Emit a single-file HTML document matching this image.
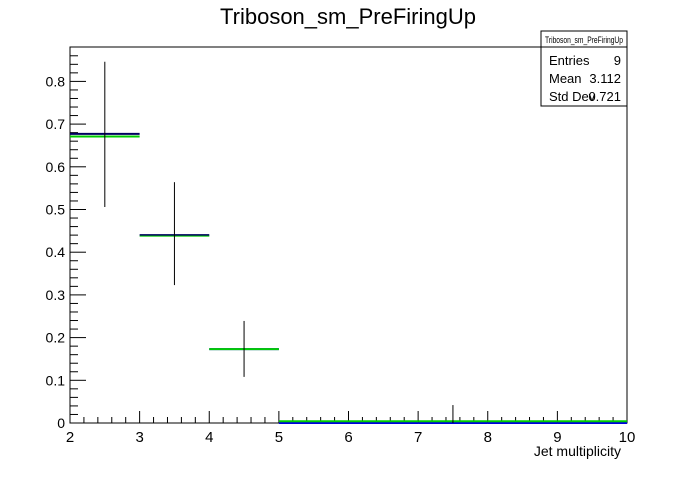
<!DOCTYPE html>
<html><head><meta charset="utf-8"><style>
body{margin:0;background:#fff;}
svg text{font-family:"Liberation Sans",sans-serif;}
</style></head><body>
<svg width="696" height="472" xmlns="http://www.w3.org/2000/svg">
<rect width="696" height="472" fill="#fff"/>
<text x="348" y="24" font-size="22" text-anchor="middle">Triboson_sm_PreFiringUp</text>
<rect x="70" y="47" width="557" height="376" fill="none" stroke="#000"/>
<g id="axes"></g>
<g id="marks"></g>
<text x="621" y="456" font-size="14" text-anchor="end">Jet multiplicity</text>
<g>
<rect x="541" y="31" width="86" height="75" fill="#fff" stroke="#000"/>
<line x1="541" y1="47" x2="627" y2="47" stroke="#000"/>
<text x="545" y="43" font-size="9" textLength="78" lengthAdjust="spacingAndGlyphs">Triboson_sm_PreFiringUp</text>
<text x="549" y="65" font-size="13">Entries</text><text x="621" y="65" font-size="13" text-anchor="end">9</text>
<text x="549" y="83" font-size="13">Mean</text><text x="621" y="83" font-size="13" text-anchor="end">3.112</text>
<text x="549" y="101" font-size="13">Std Dev</text><text x="621" y="101" font-size="13" text-anchor="end">0.721</text>
</g>
</svg>
<script>
const binEdges=[2,3,4,5,6,7,8,9,10];
const blueVals=[0.677,0.44,0.173,0,0,0,0,0];
const greenVals=[0.671,0.44,0.173,0.004,0.004,0.004,0.004,0.004];
const errLow=[0.506,0.323,0.108,0,0,0,0,0];
const errHigh=[0.846,0.564,0.239,0,0,0.042,0,0];
const xTicks=[2,3,4,5,6,7,8,9,10];
const yTicks=[0,0.1,0.2,0.3,0.4,0.5,0.6,0.7,0.8];
const NS="http://www.w3.org/2000/svg";
const X=v=>70+(v-2)*(557/8);
const Y=v=>423-v*427;
const ax=document.getElementById('axes'),mk=document.getElementById('marks');
function ln(p,x1,y1,x2,y2,c,w){const l=document.createElementNS(NS,'line');l.setAttribute('x1',x1);l.setAttribute('y1',y1);l.setAttribute('x2',x2);l.setAttribute('y2',y2);l.setAttribute('stroke',c);l.setAttribute('stroke-width',w);p.appendChild(l);return l;}
function tx(p,x,y,s,a){const t=document.createElementNS(NS,'text');t.setAttribute('x',x);t.setAttribute('y',y);t.setAttribute('font-size','14');t.setAttribute('text-anchor',a);t.textContent=s;p.appendChild(t);return t;}
for(let v=2;v<=10.001;v+=0.2){const major=Math.abs(v-Math.round(v))<1e-6;const l=ln(ax,X(v),423,X(v),423-(major?12:6),'#000',1);

}
xTicks.forEach(v=>{const t=tx(ax,X(v),442,String(v),'middle');
t.setAttribute('font-size','15');

});
for(let v=0;v<=0.88;v+=0.02){const major=Math.abs(v*10-Math.round(v*10))<1e-6;const l=ln(ax,70,Y(v),70+(major?16:8),Y(v),'#000',1);

}
yTicks.forEach(v=>{const t=tx(ax,65,Y(v)+5,String(v),'end');

});
for(let i=0;i<blueVals.length;i++){
const bc=i<2?'#000060':'#0000dd';
const b=ln(mk,X(binEdges[i]),Y(blueVals[i]),X(binEdges[i+1]),Y(blueVals[i]),bc,2);


const g=ln(mk,X(binEdges[i]),Y(greenVals[i])+(i===1?1:0),X(binEdges[i+1]),Y(greenVals[i])+(i===1?1:0),'#00cc00',i===1?1:2);


if(errHigh[i]>errLow[i]){const c=(binEdges[i]+binEdges[i+1])/2;const e=ln(mk,X(c),Y(errLow[i]),X(c),Y(errHigh[i]),'#000',1);

}
}
</script>
</body></html>
